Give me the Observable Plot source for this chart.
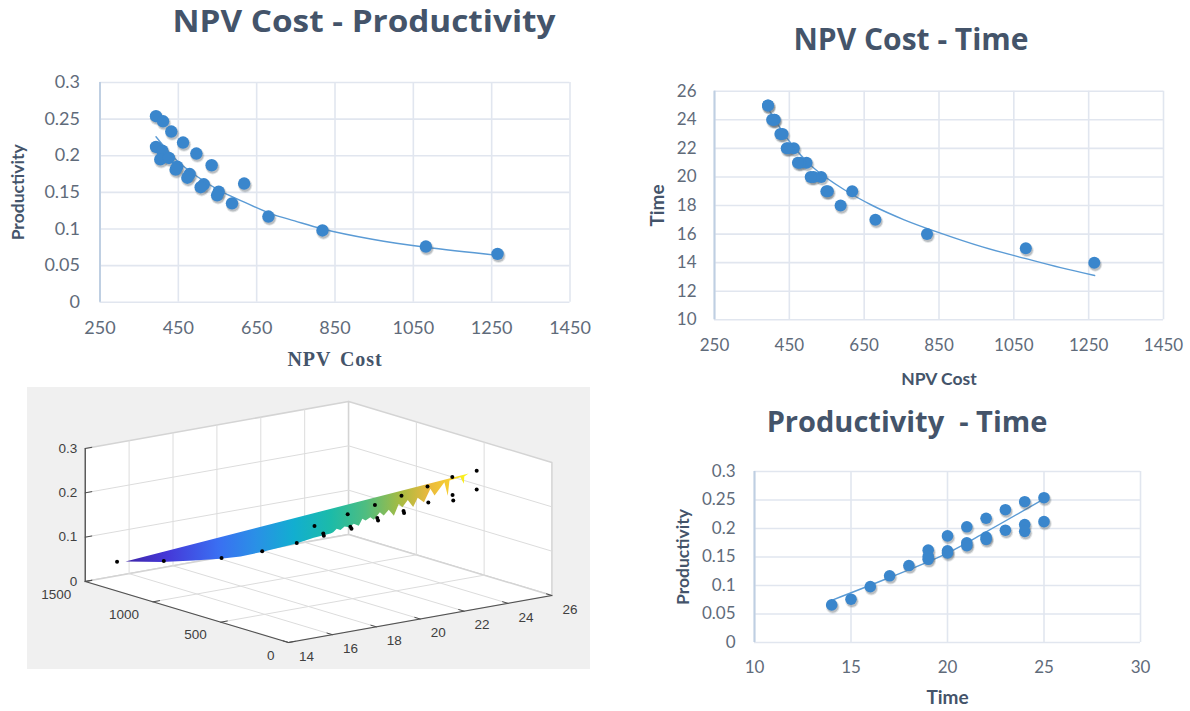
<!DOCTYPE html>
<html>
<head>
<meta charset="utf-8">
<script src="https://cdn.jsdelivr.net/npm/d3@7"></script>
<script src="https://cdn.jsdelivr.net/npm/@observablehq/plot@0.6"></script>
<style>
  html, body { margin: 0; padding: 0; background: #fff; }
  #page { position: relative; width: 1190px; height: 711px; overflow: hidden; }
  .title { position: absolute; font-family: "Open Sans", sans-serif; font-weight: 700; color: #44546a; white-space: pre; line-height: normal; }
  .spaced text { letter-spacing: .95px; word-spacing: 3px; }
</style>
</head>
<body>
<div id="page"></div>
<script>
// ---- data ----
const npvCost      = [393,393, 411,409,404, 432,426, 462,447,443, 496,479,473, 535,515,507, 618,553,549, 587, 680, 818, 1082, 1265];
const time         = [25,25, 24,24,24, 23,23, 22,22,22, 21,21,21, 20,20,20, 19,19,19, 18, 17, 16, 15, 14];
const productivity = [.254,.212, .247,.207,.195, .233,.197, .218,.185,.181, .203,.175,.17, .187,.161,.157, .162,.151,.146, .135, .117, .098, .076, .066];

const costProdTrendCost = [393,447,497,557,617,686,747,818,945,1082,1265];
const costProdTrendProd = [.226,.193,.172,.152,.137,.121,.111,.1,.086,.075,.064];
const costTimeTrendCost = [393,450,512,597,672,757,850,966,1085,1175,1266];
const costTimeTrendTime = [24.8,22.5,20.7,19.1,18,17,16.1,15.1,14.26,13.65,13.1];
const timeProdTrendTime = [14,17,20,22,25];
const timeProdTrendProd = [.074,.114,.157,.194,.252];

const costTicks = [250,450,650,850,1050,1250,1450];
const prodTicks = [0,.05,.1,.15,.2,.25,.3];
const timeTicks = [10,12,14,16,18,20,22,24,26];
const timeTicks2 = [10,15,20,25,30];

// outline of the fitted surface in the 3-D panel
const surfaceCost = [1253,1007,855,727,653,601,531,520,491,496,529,491,519,484,508,453,537,492,515,456,539,465,525,408,560,488,571,426,545,442,490,485,484,409,482,435,358,415,402];
const surfaceTime = [14.31,14.46,14.95,15.39,15.85,16.44,17.6,18.36,18.95,19.1,19.46,19.4,19.76,19.74,20.11,20,20.68,20.55,20.91,20.7,21.49,21.21,21.81,21.32,22.48,22.2,22.96,22.31,23.25,22.9,23.49,23.65,24.09,23.78,24.31,24.52,24.2,24.57,24.69];
const surfaceProd = [.065,.085,.098,.11,.118,.127,.142,.15,.157,.158,.16,.161,.163,.165,.167,.169,.171,.172,.174,.176,.178,.18,.182,.184,.186,.188,.19,.193,.195,.197,.218,.202,.228,.207,.23,.24,.235,.243,.25];
const parulaStops = [[0,"#3e26a8"],[.12,"#4538d8"],[.27,"#3a6ff2"],[.38,"#2a90e6"],[.49,"#12aed0"],[.6,"#1cbba8"],[.7,"#4fbd80"],[.8,"#a6bb42"],[.88,"#e8b83e"],[.95,"#f8d030"],[1,"#f9fb15"]];

const tickCost3d = [0,500,1000,1500];
const tickTime3d = [14,16,18,20,22,24,26];
const tickProd3d = [0,.1,.2,.3];

// ---- shared styling ----
const page = document.getElementById("page");
const labelFont = "Lato, sans-serif";
const tickColor = "#5f6b7a";
const inkColor = "#44546a";
const gridColor = "#e1e6ef";
const spineColor = "#bfcfe2";
const dotColor = "#3a86cc";
const trendColor = "#5b9bd5";

function place(node, left, top) {
  node.style.position = "absolute";
  node.style.left = left + "px";
  node.style.top = top + "px";
  page.appendChild(node);
}
function title(text, cx, top, size, stretch) {
  const d = document.createElement("div");
  d.className = "title";
  d.textContent = text;
  d.style.left = cx + "px";
  d.style.top = top + "px";
  d.style.fontSize = size + "px";
  d.style.transform = `translateX(-50%) scaleX(${stretch})`;
  page.appendChild(d);
}

function scatter(cfg) {
  const rows = cfg.xs.map((x, i) => ({x, y: cfg.ys[i]}));
  const trend = cfg.tx.map((x, i) => ({x, y: cfg.ty[i]}));
  const f = cfg.frame;
  const svg = Plot.plot({
    width: cfg.w, height: cfg.h,
    marginLeft: f.l, marginRight: cfg.w - f.r, marginTop: f.t, marginBottom: cfg.h - f.b,
    style: {background: "transparent", overflow: "visible"},
    x: {domain: cfg.xDomain},
    y: {domain: cfg.yDomain},
    marks: [
      Plot.gridX(cfg.xTicks, {stroke: gridColor, strokeOpacity: 1, strokeWidth: 1.6}),
      Plot.gridY(cfg.yTicks, {stroke: gridColor, strokeOpacity: 1, strokeWidth: 1.6}),
      Plot.ruleX([cfg.xDomain[0]], {stroke: spineColor, strokeWidth: 2}),
      Plot.axisX({ticks: cfg.xTicks, tickSize: 0, tickPadding: cfg.xPad, label: null, fontSize: cfg.font, fill: tickColor, fontFamily: labelFont, tickFormat: String}),
      Plot.axisY({ticks: cfg.yTicks, tickSize: 0, tickPadding: cfg.yPad, label: null, fontSize: cfg.font, fill: tickColor, fontFamily: labelFont, tickFormat: String}),
      Plot.line(trend, {x: "x", y: "y", stroke: trendColor, strokeWidth: 1.4, curve: "catmull-rom"}),
      // soft offset shadow under each bubble
      Plot.dot(rows, {x: "x", y: "y", r: cfg.r + 1, dx: 1, dy: 2, fill: "#59626c", fillOpacity: .16, stroke: "none"}),
      Plot.dot(rows, {x: "x", y: "y", r: cfg.r, dx: 1, dy: 2, fill: "#59626c", fillOpacity: .3, stroke: "none"}),
      Plot.dot(rows, {x: "x", y: "y", r: cfg.r, fill: dotColor, stroke: "none"}),
      Plot.text([cfg.xLabel], {frameAnchor: "bottom", dy: cfg.xLabelDy, fontFamily: cfg.xLabelFont || labelFont, fontWeight: 700, fontSize: cfg.xLabelSize, fill: inkColor, className: cfg.xLabelClass}),
      Plot.text([cfg.yLabel], {frameAnchor: "left", textAnchor: "middle", dx: cfg.yLabelDx, rotate: -90, fontFamily: labelFont, fontWeight: 700, fontSize: cfg.yLabelSize, fill: inkColor})
    ]
  });
  place(svg, cfg.left, cfg.top);
}

// ---- top left ----
title("NPV Cost - Productivity", 364, 0, 30, 1.11);
scatter({
  left: 0, top: 60, w: 595, h: 325,
  frame: {l: 99.5, r: 569.5, t: 22, b: 241.7},
  xs: npvCost, ys: productivity, tx: costProdTrendCost, ty: costProdTrendProd,
  xDomain: [250,1450], yDomain: [0,.3], xTicks: costTicks, yTicks: prodTicks,
  xPad: 19, yPad: 20, font: 18, r: 6.2,
  xLabel: "NPV Cost", xLabelDy: 64, xLabelFont: '"Liberation Serif", serif', xLabelSize: 20, xLabelClass: "spaced",
  yLabel: "Productivity", yLabelDx: -82, yLabelSize: 17.5
});

// ---- top right ----
title("NPV Cost - Time", 911, 17.6, 30, 1);
scatter({
  left: 640, top: 70, w: 550, h: 320,
  frame: {l: 74, r: 523, t: 20.7, b: 249.3},
  xs: npvCost, ys: time, tx: costTimeTrendCost, ty: costTimeTrendTime,
  xDomain: [250,1450], yDomain: [10,26], xTicks: costTicks, yTicks: timeTicks,
  xPad: 19, yPad: 18, font: 17, r: 6,
  xLabel: "NPV Cost", xLabelDy: 65, xLabelSize: 17.5,
  yLabel: "Time", yLabelDx: -57, yLabelSize: 19
});

// ---- bottom right ----
title("Productivity  - Time", 907, 401, 29, 1);
scatter({
  left: 660, top: 450, w: 500, h: 260,
  frame: {l: 94, r: 480, t: 21, b: 192},
  xs: time, ys: productivity, tx: timeProdTrendTime, ty: timeProdTrendProd,
  xDomain: [10,30], yDomain: [0,.3], xTicks: timeTicks2, yTicks: prodTicks,
  xPad: 18, yPad: 19, font: 17, r: 5.8,
  xLabel: "Time", xLabelDy: 61, xLabelSize: 19,
  yLabel: "Productivity", yLabelDx: -71, yLabelSize: 17.5
});

// ---- bottom left: 3-D view ----
const view = {ox: 288, oy: 642, cx: -203.3, cy: -61, tx: 263.4, ty: -47, zy: -133};
function project(c, t, z) {
  const cc = c / 1500, tt = (t - 14) / 12, zz = z / .3;
  return {px: view.ox + cc * view.cx + tt * view.tx, py: view.oy + cc * view.cy + tt * view.ty + zz * view.zy};
}
const poly = (corners, opts) => Plot.line(corners.map(d => project(...d)), {x: "px", y: "py", ...opts});
const seg = (a, b, opts) => poly([a, b], opts);

const grid3d = {stroke: "#dcdcdc", strokeWidth: 1};
const axis3d = {stroke: "#4d4d4d", strokeWidth: 1};
const font3d = '"Liberation Sans", sans-serif';
const marks3d = [
  // the gradient of the surface
  () => {
    const s = d3.create("svg:defs");
    const g = s.append("linearGradient").attr("id", "parula").attr("x1", 0).attr("x2", 1).attr("y1", 0).attr("y2", 0);
    parulaStops.forEach(([o, c]) => g.append("stop").attr("offset", o).attr("stop-color", c));
    return s.node();
  },
  // walls and floor
  poly([[1500,14,0],[1500,14,.3],[1500,26,.3],[1500,26,0],[1500,14,0]], {fill: "#fff", stroke: "#d4d4d4"}),
  poly([[1500,26,0],[1500,26,.3],[0,26,.3],[0,26,0],[1500,26,0]], {fill: "#fff", stroke: "#d4d4d4"}),
  poly([[0,14,0],[1500,14,0],[1500,26,0],[0,26,0],[0,14,0]], {fill: "#fff", stroke: "#d4d4d4"}),
  // grid
  ...tickTime3d.slice(1, -1).flatMap(t => [
    seg([0,t,0],[1500,t,0], grid3d),
    seg([1500,t,0],[1500,t,.3], grid3d)
  ]),
  ...tickCost3d.slice(1, -1).flatMap(c => [
    seg([c,14,0],[c,26,0], grid3d),
    seg([c,26,0],[c,26,.3], grid3d)
  ]),
  ...tickProd3d.slice(1, -1).flatMap(z => [
    seg([1500,14,z],[1500,26,z], grid3d),
    seg([1500,26,z],[0,26,z], grid3d)
  ]),
  // axes
  seg([1500,14,0],[1500,14,.3], {stroke: "#262626", strokeWidth: 1}),
  seg([1500,14,0],[0,14,0], axis3d),
  seg([0,14,0],[0,26,0], axis3d),
  ...tickProd3d.map(z => seg([1500,14,z],[1500,14.3,z], axis3d)),
  ...tickTime3d.map(t => seg([0,t,0],[40,t,0], axis3d)),
  ...tickCost3d.map(c => seg([c,14,0],[c,14.3,0], axis3d)),
  // surface
  Plot.line(surfaceCost.map((c, i) => project(c, surfaceTime[i], surfaceProd[i])), {x: "px", y: "py", fill: "url(#parula)", stroke: "none"}),
  // measured points
  Plot.dot(npvCost.map((c, i) => project(c, time[i], productivity[i])), {x: "px", y: "py", r: 2, fill: "#000", stroke: "none"}),
  // tick labels
  Plot.text(tickProd3d.map(z => ({z, ...project(1500, 14, z)})), {x: "px", y: "py", text: d => String(d.z), textAnchor: "end", dx: -8, fontFamily: font3d, fontSize: 13.5, fill: "#404040"}),
  Plot.text(tickCost3d.map(c => ({c, ...project(c, 14, 0)})), {x: "px", y: "py", text: d => String(d.c), textAnchor: "end", dx: -14, dy: 13, fontFamily: font3d, fontSize: 13.5, fill: "#404040"}),
  Plot.text(tickTime3d.map(t => ({t, ...project(0, t, 0)})), {x: "px", y: "py", text: d => String(d.t), dx: 18, dy: 14, fontFamily: font3d, fontSize: 13.5, fill: "#404040"})
];
const chart3d = Plot.plot({
  width: 563, height: 282, margin: 0,
  style: {background: "#f0f0f0"},
  x: {axis: null, domain: [27,590], range: [0,563]},
  y: {axis: null, domain: [387,669], range: [0,282]},
  marks: marks3d
});
place(chart3d, 27, 387);
</script>
</body>
</html>
